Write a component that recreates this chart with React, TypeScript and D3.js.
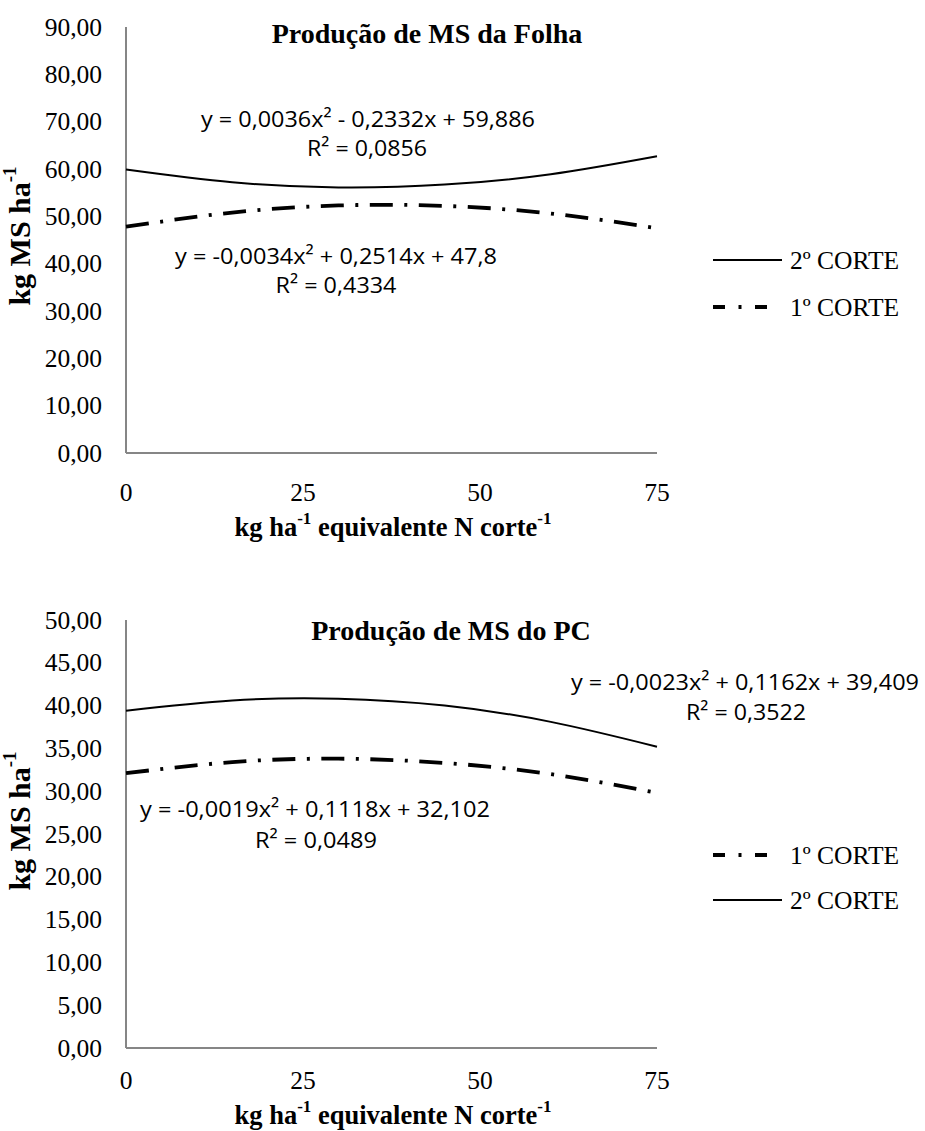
import React from 'react';
import * as d3 from 'd3';

// doses of N (kg/ha per cut) used to trace the fitted curves
const doses = [0, 15, 30, 45, 60, 75];
const xTicks = [0, 25, 50, 75];

// Produção de MS da Folha
const folhaCorte2 = [59.9, 57.2, 56.1, 56.7, 58.9, 62.7];
const folhaCorte1 = [47.8, 50.8, 52.3, 52.2, 50.6, 47.5];
const folhaTicks = [0, 10, 20, 30, 40, 50, 60, 70, 80, 90];

// Produção de MS do PC
const pcCorte2 = [39.4, 40.6, 40.8, 40.0, 38.1, 35.2];
const pcCorte1 = [32.1, 33.4, 33.8, 33.3, 32.0, 29.8];
const pcTicks = [0, 5, 10, 15, 20, 25, 30, 35, 40, 45, 50];

const folhaEq = ['y = 0,0036x² - 0,2332x + 59,886', 'R² = 0,0856', 'y = -0,0034x² + 0,2514x + 47,8', 'R² = 0,4334'];
const pcEq = ['y = -0,0023x² + 0,1162x + 39,409', 'R² = 0,3522', 'y = -0,0019x² + 0,1118x + 32,102', 'R² = 0,0489'];

const serif = '"Liberation Serif", "Times New Roman", serif';
const sans = '"Open Sans", "Noto Sans", sans-serif';
const DASHDOT = '23 11.5 3 11.5';
const fmt = (v: number) => v.toFixed(2).replace('.', ',');

type Eq = { text: string; cx: number; cy: number; w: number };

const Panel = ({ top, bottom, yMax, yTicks, title, titleX, titleY, s2, s1, eqs, legend, xLabY, xTitleY, yTitleY }: any) => {
  const x = d3.scaleLinear().domain([0, 75]).range([126, 657]);
  const y = d3.scaleLinear().domain([0, yMax]).range([bottom, top]);
  const line = d3.line<number>()
    .x((d, i) => x(doses[i]))
    .y(d => y(d))
    .curve(d3.curveNatural);

  return (
    <g>
      <text x={titleX} y={titleY} textAnchor="middle" dominantBaseline="central"
        fontFamily={serif} fontWeight="bold" fontSize={28}>{title}</text>

      {/* axes */}
      <line x1={126} x2={126} y1={top} y2={bottom} stroke="#868686" strokeWidth={2} />
      <line x1={126} x2={657} y1={bottom} y2={bottom} stroke="#868686" strokeWidth={2} />

      {yTicks.map((t: number) => (
        <text key={t} x={102} y={y(t)} textAnchor="end" dominantBaseline="central"
          fontFamily={serif} fontSize={25.5}>{fmt(t)}</text>
      ))}
      {xTicks.map(t => (
        <text key={t} x={x(t)} y={xLabY} textAnchor="middle" dominantBaseline="central"
          fontFamily={serif} fontSize={25.5}>{t}</text>
      ))}

      <text x={393} y={xTitleY} textAnchor="middle" dominantBaseline="central"
        fontFamily={serif} fontWeight="bold" fontSize={26.5}>
        kg ha<tspan dy={-9} fontSize={17}>-1</tspan><tspan dy={9}> equivalente N corte</tspan><tspan dy={-9} fontSize={17}>-1</tspan>
      </text>
      <text transform={`translate(19,${yTitleY}) rotate(-90)`} textAnchor="middle" dominantBaseline="central"
        fontFamily={serif} fontWeight="bold" fontSize={30}>
        kg MS ha<tspan dy={-10} fontSize={19}>-1</tspan>
      </text>

      <path d={line(s2) || ''} fill="none" stroke="#000" strokeWidth={2} />
      <path d={line(s1) || ''} fill="none" stroke="#000" strokeWidth={3.8} strokeDasharray={DASHDOT} />

      {eqs.map((e: Eq, i: number) => (
        <text key={i} x={e.cx - e.w / 2} y={e.cy} dominantBaseline="central"
          fontFamily={sans} fontSize={22.5} textLength={e.w} lengthAdjust="spacingAndGlyphs">{e.text}</text>
      ))}

      {legend.map((l: any) => (
        <g key={l.label}>
          {l.dash
            ? <line x1={713} x2={770} y1={l.y} y2={l.y} stroke="#000" strokeWidth={4} strokeDasharray="12 13.5 3 13.5 12" />
            : <line x1={713} x2={782} y1={l.y} y2={l.y} stroke="#000" strokeWidth={2} />}
          <text x={790} y={l.y} dominantBaseline="central" fontFamily={serif} fontSize={25.5}>{l.label}</text>
        </g>
      ))}
    </g>
  );
};

const App = () => (
  <svg width={925} height={1131} style={{ position: 'absolute', left: 0, top: 0, background: '#fff' }}>
    <Panel top={27} bottom={453} yMax={90} yTicks={folhaTicks}
      title="Produção de MS da Folha" titleX={427} titleY={33}
      s2={folhaCorte2} s1={folhaCorte1}
      eqs={[
        { text: folhaEq[0], cx: 368, cy: 118, w: 334 },
        { text: folhaEq[1], cx: 367, cy: 147, w: 120 },
        { text: folhaEq[2], cx: 336, cy: 255, w: 322 },
        { text: folhaEq[3], cx: 336, cy: 284, w: 121 },
      ]}
      legend={[{ label: '2º CORTE', y: 260, dash: false }, { label: '1º CORTE', y: 307, dash: true }]}
      xLabY={492} xTitleY={527} yTitleY={236} />
    <Panel top={620} bottom={1048} yMax={50} yTicks={pcTicks}
      title="Produção de MS do PC" titleX={451} titleY={630}
      s2={pcCorte2} s1={pcCorte1}
      eqs={[
        { text: pcEq[0], cx: 745, cy: 681, w: 348 },
        { text: pcEq[1], cx: 746, cy: 711, w: 120 },
        { text: pcEq[2], cx: 315, cy: 808, w: 350 },
        { text: pcEq[3], cx: 316, cy: 839, w: 122 },
      ]}
      legend={[{ label: '1º CORTE', y: 855, dash: true }, { label: '2º CORTE', y: 900, dash: false }]}
      xLabY={1080} xTitleY={1115} yTitleY={821} />
  </svg>
);

export default App;
